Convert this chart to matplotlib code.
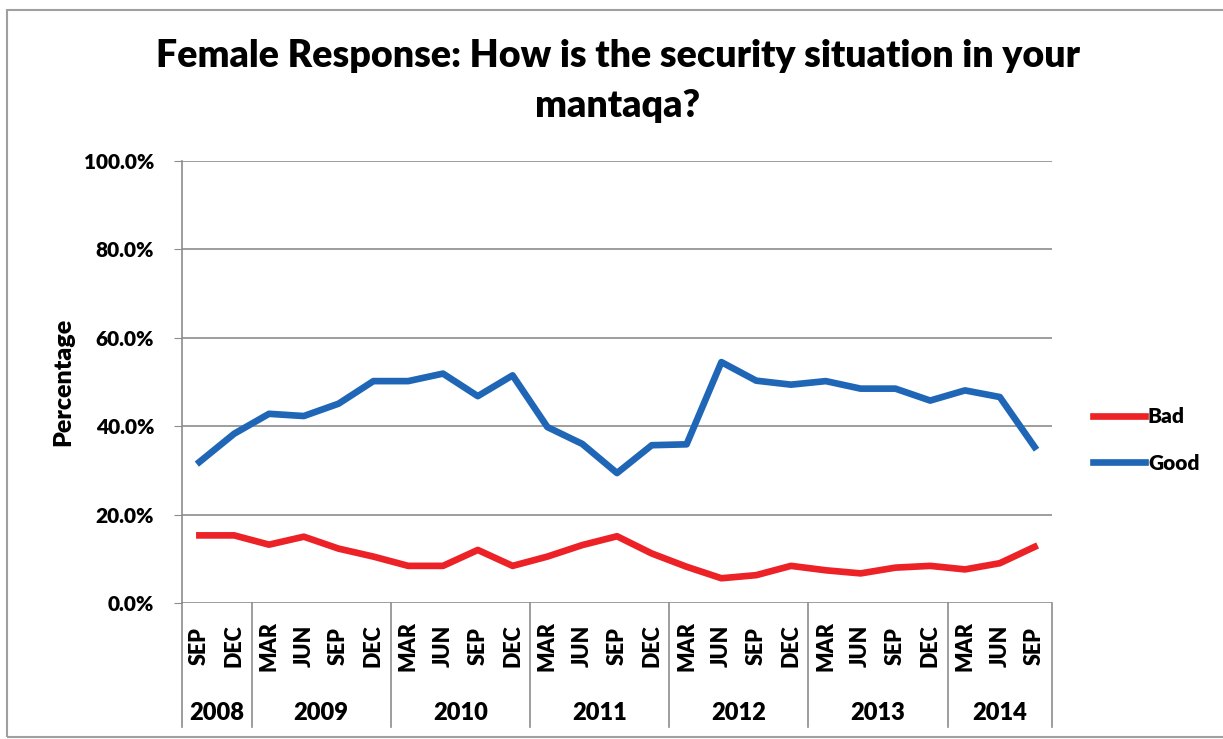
import matplotlib.pyplot as plt
import matplotlib.transforms as mtransforms
from matplotlib.patches import Rectangle

plt.rcParams['font.family'] = ['Lato', 'DejaVu Sans']

# survey waves, Sep 2008 .. Sep 2014
months = ['SEP', 'DEC',
          'MAR', 'JUN', 'SEP', 'DEC',
          'MAR', 'JUN', 'SEP', 'DEC',
          'MAR', 'JUN', 'SEP', 'DEC',
          'MAR', 'JUN', 'SEP', 'DEC',
          'MAR', 'JUN', 'SEP', 'DEC',
          'MAR', 'JUN', 'SEP']
years = ['2008', '2009', '2010', '2011', '2012', '2013', '2014']
waves_per_year = [2, 4, 4, 4, 4, 4, 3]

bad = [15.3, 15.3, 13.2, 15.0, 12.3, 10.5, 8.4, 8.4, 12.0, 8.4,
       10.5, 13.1, 15.1, 11.2, 8.2, 5.6, 6.3, 8.4, 7.4, 6.7,
       8.0, 8.4, 7.6, 9.0, 12.7]
good = [31.9, 38.3, 42.8, 42.3, 45.1, 50.2, 50.2, 51.9, 46.8, 51.5,
        39.8, 36.0, 29.4, 35.7, 35.9, 54.5, 50.3, 49.4, 50.2, 48.5,
        48.5, 45.8, 48.1, 46.6, 35.3]

red = '#EC2227'
blue = '#1F67B6'
grid_c = '#8C8C8C'
fw = 'heavy'

fig = plt.figure(figsize=(12.23, 7.39), dpi=100)
fig.patches.append(Rectangle((7 / 1223, 2 / 739), 1.2, 727 / 739, transform=fig.transFigure,
                             fill=False, edgecolor='#A0A0A0', linewidth=1.5))

ax = fig.add_axes([182 / 1223, 136 / 739, 870 / 1223, 442 / 739])
x = list(range(len(months)))
ax.plot(x, bad, color=red, linewidth=4.8, label='Bad')
ax.plot(x, good, color=blue, linewidth=4.8, label='Good')

ax.set_xlim(-0.5, len(months) - 0.5)
ax.set_ylim(0, 100)
ax.set_yticks([0, 20, 40, 60, 80, 100])
ax.set_yticklabels(['%.1f%%' % v for v in [0, 20, 40, 60, 80, 100]],
                   fontsize=15, fontweight=fw)
ax.tick_params(axis='y', length=6, color=grid_c, pad=14)
ax.set_xticks([])
ax.grid(axis='y', color=grid_c, linewidth=1.2)
ax.set_axisbelow(True)
for s in ['top', 'right', 'bottom']:
    ax.spines[s].set_visible(False)
ax.spines['left'].set_color(grid_c)
ax.spines['left'].set_linewidth(1.2)
ax.set_ylabel('Percentage', fontsize=18, fontweight=fw, labelpad=7)

# two level category axis
trans = mtransforms.blended_transform_factory(ax.transData, ax.transAxes)
for i, m in enumerate(months):
    ax.text(i, -0.097, m, transform=trans, rotation=90, ha='center', va='center',
            fontsize=15.5, fontweight=fw)
start = -0.5
ax.plot([start, start], [0, -0.28], transform=trans, color=grid_c, lw=1.2, clip_on=False)
for yr, n in zip(years, waves_per_year):
    end = start + n
    ax.plot([end, end], [0, -0.28], transform=trans, color=grid_c, lw=1.2, clip_on=False)
    ax.text((start + end) / 2, -0.25, yr, transform=trans, ha='center', va='center',
            fontsize=17, fontweight=fw)
    start = end

fig.text(0.505, 1 - 81 / 739, 'Female Response: How is the security situation in your\nmantaqa?',
         ha='center', va='center', fontsize=27, fontweight=fw, linespacing=1.55)

fig.legend(loc='center left', bbox_to_anchor=(1074 / 1223, 299 / 739), frameon=False,
           prop={'weight': fw, 'size': 15}, handlelength=2.5,
           handletextpad=0.15, labelspacing=1.3)

fig.savefig('out.png', dpi=100)
